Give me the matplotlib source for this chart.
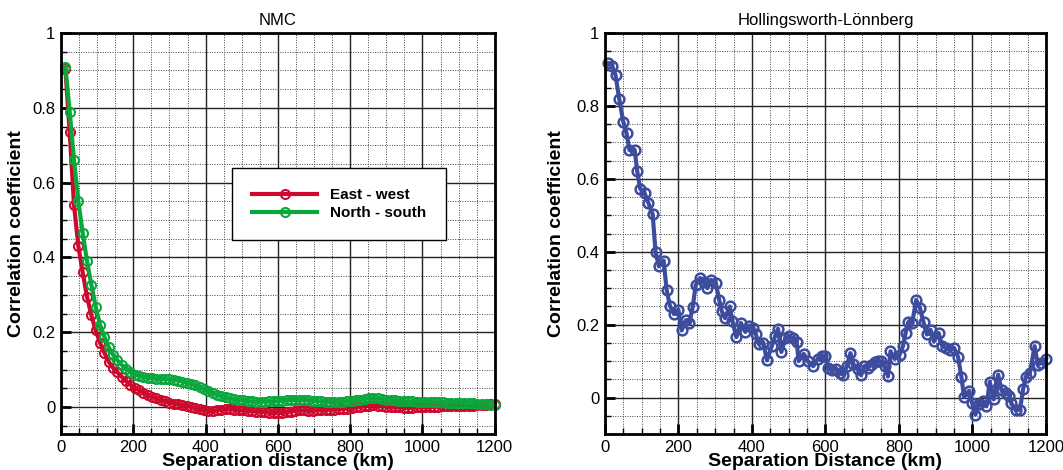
import numpy as np
import matplotlib
matplotlib.use("Agg")
import matplotlib.pyplot as plt
from matplotlib.ticker import MultipleLocator, FuncFormatter

plt.rcParams['font.family'] = ['Liberation Sans', 'DejaVu Sans']

# NMC method: correlation vs separation (km), every 12 km
nmc_dist = np.arange(12, 1201, 12)
east_west = [
    0.905, 0.735, 0.54, 0.43, 0.36, 0.295, 0.245, 0.205, 0.172, 0.145,
    0.121, 0.105, 0.093, 0.081, 0.07, 0.06, 0.052, 0.045, 0.038, 0.032,
    0.027, 0.023, 0.019, 0.015, 0.012, 0.009, 0.007, 0.005, 0.003, 0.0,
    -0.003, -0.006, -0.009, -0.011, -0.011, -0.009, -0.007, -0.006, -0.006, -0.007,
    -0.008, -0.009, -0.010, -0.011, -0.012, -0.013, -0.014, -0.015, -0.016, -0.016,
    -0.016, -0.014, -0.012, -0.010, -0.009, -0.009, -0.010, -0.010, -0.009, -0.008,
    -0.008, -0.007, -0.007, -0.006, -0.005, -0.004, -0.003, -0.001, 0.001, 0.003,
    0.004, 0.005, 0.004, 0.003, 0.001, 0.0, -0.001, -0.001, -0.002, -0.002,
    -0.002, -0.001, -0.001, 0.0, 0.0, 0.001, 0.001, 0.002, 0.002, 0.002,
    0.003, 0.003, 0.003, 0.004, 0.004, 0.005, 0.006, 0.006, 0.007, 0.007,
]
north_south = [
    0.91, 0.79, 0.66, 0.55, 0.465, 0.39, 0.327, 0.268, 0.22, 0.188,
    0.16, 0.14, 0.125, 0.113, 0.103, 0.095, 0.087, 0.083, 0.08, 0.078,
    0.077, 0.076, 0.075, 0.075, 0.074, 0.073, 0.071, 0.068, 0.065, 0.062,
    0.058, 0.053, 0.048, 0.043, 0.038, 0.033, 0.029, 0.026, 0.023, 0.021,
    0.019, 0.018, 0.016, 0.015, 0.014, 0.014, 0.014, 0.015, 0.015, 0.016,
    0.017, 0.018, 0.019, 0.019, 0.019, 0.019, 0.018, 0.017, 0.016, 0.015,
    0.014, 0.013, 0.013, 0.013, 0.014, 0.015, 0.016, 0.018, 0.020, 0.022,
    0.023, 0.024, 0.023, 0.022, 0.020, 0.019, 0.018, 0.017, 0.016, 0.015,
    0.015, 0.014, 0.014, 0.014, 0.014, 0.013, 0.013, 0.013, 0.012, 0.012,
    0.012, 0.012, 0.011, 0.011, 0.010, 0.009, 0.008, 0.007, 0.006, 0.005,
]

# Hollingsworth-Lonnberg method
hl_dist = [
    9, 20, 29, 39, 50, 59, 67, 81, 88, 96,
    108, 118, 130, 138, 147, 160, 168, 177, 188, 200,
    209, 220, 230, 239, 247, 259, 271, 279, 289, 302,
    311, 318, 327, 340, 347, 358, 370, 382, 391, 402,
    411, 418, 431, 441, 454, 463, 471, 480, 491, 502,
    513, 522, 527, 541, 552, 567, 579, 591, 600, 607,
    617, 629, 640, 649, 658, 668, 676, 688, 697, 706,
    715, 725, 734, 743, 752, 761, 770, 777, 788, 802,
    811, 818, 825, 836, 847, 857, 867, 876, 886, 895,
    908, 918, 929, 938, 950, 961, 970, 977, 991, 999,
    1008, 1018, 1029, 1038, 1047, 1058, 1070, 1079, 1091, 1100,
    1106, 1118, 1129, 1138, 1145, 1156, 1169, 1178, 1187, 1200,
]
hl_corr = [
    0.917, 0.910, 0.885, 0.820, 0.757, 0.725, 0.679, 0.680, 0.622, 0.573,
    0.561, 0.535, 0.503, 0.399, 0.360, 0.376, 0.296, 0.252, 0.229, 0.241,
    0.184, 0.212, 0.205, 0.248, 0.308, 0.328, 0.316, 0.300, 0.323, 0.314,
    0.268, 0.237, 0.218, 0.250, 0.209, 0.166, 0.205, 0.180, 0.197, 0.191,
    0.173, 0.148, 0.150, 0.102, 0.141, 0.168, 0.189, 0.125, 0.163, 0.168,
    0.163, 0.152, 0.100, 0.120, 0.100, 0.086, 0.106, 0.113, 0.115, 0.081,
    0.075, 0.079, 0.066, 0.063, 0.086, 0.122, 0.092, 0.077, 0.061, 0.086,
    0.081, 0.090, 0.098, 0.100, 0.099, 0.086, 0.058, 0.127, 0.106, 0.118,
    0.141, 0.177, 0.206, 0.205, 0.268, 0.246, 0.206, 0.173, 0.186, 0.154,
    0.177, 0.141, 0.136, 0.130, 0.136, 0.111, 0.056, 0.002, 0.019, -0.015,
    -0.047, -0.017, -0.010, -0.024, 0.043, -0.005, 0.063, 0.020, 0.013, 0.005,
    -0.016, -0.035, -0.033, 0.024, 0.057, 0.066, 0.141, 0.090, 0.095, 0.107,
]

RED = "#CC0A2E"
GREEN = "#0AA83C"
BLUE = "#3E4C9E"


def style_axes(ax, ymin):
    ax.set_xlim(0, 1200)
    ax.set_ylim(ymin, 1)
    ax.xaxis.set_major_locator(MultipleLocator(200))
    ax.xaxis.set_minor_locator(MultipleLocator(50))
    ax.yaxis.set_major_locator(MultipleLocator(0.2))
    ax.yaxis.set_minor_locator(MultipleLocator(0.05))
    ax.yaxis.set_major_formatter(FuncFormatter(lambda v, p: "%g" % round(v, 2)))
    ax.grid(True, which="major", color="#222222", lw=1.0, ls="-")
    ax.grid(True, which="minor", color="#444444", lw=0.7, ls=(0, (1, 1.5)))
    ax.set_axisbelow(True)
    ax.tick_params(which="both", direction="in", top=False, right=False,
                   labelsize=12, pad=4)
    ax.tick_params(which="major", length=7, width=2)
    ax.tick_params(which="minor", length=4, width=1)
    for sp in ax.spines.values():
        sp.set_linewidth(2)
    ax.set_ylabel("Correlation coefficient", fontsize=14, fontweight="bold")


fig = plt.figure(figsize=(10.63, 4.70), dpi=100)
ax1 = fig.add_axes([0.0574, 0.0766, 0.408, 0.853])
ax2 = fig.add_axes([0.569, 0.0766, 0.415, 0.853])

ax1.plot(nmc_dist, east_west, color=RED, lw=3, marker="o", ms=6.5,
         mfc="none", mew=1.5, label="East - west", clip_on=False)
ax1.plot(nmc_dist, north_south, color=GREEN, lw=3, marker="o", ms=6.5,
         mfc="none", mew=1.5, label="North - south", clip_on=False)
style_axes(ax1, -0.072)
ax1.yaxis.set_label_coords(-0.083, 0.5)
ax1.set_title("NMC", fontsize=12, pad=6)
ax1.set_xlabel("Separation distance (km)", fontsize=14, fontweight="bold", labelpad=-1)
leg = ax1.legend(loc="lower left", bbox_to_anchor=(0.394, 0.484, 0.493, 0.187),
                 mode="expand", fancybox=False, framealpha=1, edgecolor="black",
                 handlelength=4.3, handletextpad=0.8, numpoints=1, borderpad=1.3,
                 labelspacing=0.25, borderaxespad=0,
                 prop={"weight": "bold", "size": 11})
leg.get_frame().set_linewidth(1.0)

ax2.plot(hl_dist, hl_corr, color=BLUE, lw=3, marker="o", ms=7,
         mfc="none", mew=1.8, clip_on=False)
style_axes(ax2, -0.1)
ax2.yaxis.set_label_coords(-0.091, 0.5)
ax2.set_title("Hollingsworth-Lönnberg", fontsize=12, pad=6)
ax2.set_xlabel("Separation Distance (km)", fontsize=14, fontweight="bold", labelpad=-1)

fig.savefig("out.png", dpi=100)
